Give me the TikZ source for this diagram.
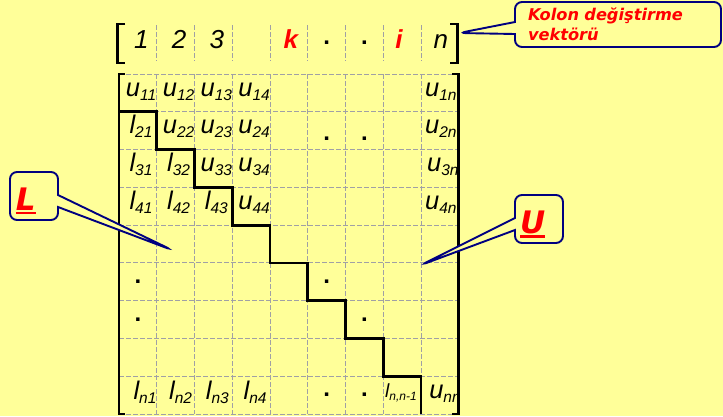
\documentclass[tikz,border=0pt]{standalone}
\usepackage{fontspec}
\setsansfont{Liberation Sans}
\newfontfamily\calfont{DejaVu Sans}
\usepackage{graphicx}
\usetikzlibrary{shapes.callouts}

\definecolor{bgyellow}{RGB}{255,255,153}
\definecolor{navyline}{RGB}{0,0,128}
\definecolor{gridgray}{RGB}{160,160,165}

% entry with a subscript
\newcommand\ent[2]{{\fontsize{25.5}{25}\selectfont #1}\raisebox{-4pt}{\fontsize{15.5}{15}\selectfont #2}}
\newcommand\entsmall[2]{{\fontsize{19}{19}\selectfont #1}\raisebox{-3pt}{\fontsize{12}{12}\selectfont #2}}
\newcommand\thickul[1]{\vtop{\hbox{#1}\kern2pt\hrule height 2.4pt}}

\begin{document}
\begin{tikzpicture}[x=1pt, y=-1pt,
    gridline/.style={draw=gridgray, dash pattern=on 4.5pt off 2.5pt, line width=0.9pt},
    heavy/.style={line width=2.8pt},
    entry/.style={anchor=base, inner sep=0pt, font=\sffamily\itshape},
    numb/.style={anchor=base, inner sep=0pt, font=\sffamily\itshape\fontsize{26}{26}\selectfont},
    hot/.style={anchor=base, inner sep=0pt, text=red, font=\sffamily\bfseries\itshape\fontsize{26}{26}\selectfont},
    dot/.style={inner sep=0pt, font=\sffamily\bfseries\fontsize{24}{24}\selectfont},
    balloon/.style={rectangle callout, draw=navyline, line width=1.9pt, fill=bgyellow,
        rounded corners=7pt, callout pointer width=12pt, text=red}]
    \useasboundingbox (0,0) rectangle (723,416);
    \fill[bgyellow] (0,0) rectangle (723,416);

    % dashed grid
    \foreach \i in {1,...,8} {
        \draw[gridline] ({119+\i*37.75},25) -- ({119+\i*37.75},61);
        \draw[gridline] ({119+\i*37.75},74) -- ({119+\i*37.75},414);
    }
    \foreach \j in {0,...,9}
        \draw[gridline] (119,{74+\j*37.78}) -- (458.75,{74+\j*37.78});

    % column vector
    \node[numb] (h1) at (141.4,48.5) {1};
    \node[numb] (h2) at (179.1,48.5) {2};
    \node[numb] (h3) at (216.9,48.5) {3};
    \node[hot] (hk) at (290.9,48.5) {k};
    \node[dot] (hd6) at (326.6,43) {.};
    \node[dot] (hd7) at (364.4,43) {.};
    \node[hot] (hi) at (399.1,48.5) {i};
    \node[numb] (hn) at (440.9,48.5) {n};

    % row 1
    \node[entry] (u11) at (141,96) {\ent{u}{11}};
    \node[entry] (u12) at (178.6,96) {\ent{u}{12}};
    \node[entry] (u13) at (216.4,96) {\ent{u}{13}};
    \node[entry] (u14) at (254.1,96) {\ent{u}{14}};
    \node[entry] (u1n) at (440.9,96) {\ent{u}{1n}};
    % row 2
    \node[entry] (l21) at (141,133.8) {\ent{l}{21}};
    \node[entry] (u22) at (178.6,133.8) {\ent{u}{22}};
    \node[entry] (u23) at (216.4,133.8) {\ent{u}{23}};
    \node[entry] (u24) at (254.1,133.8) {\ent{u}{24}};
    \node[dot] (d26) at (326.6,139) {.};
    \node[dot] (d27) at (364.4,139) {.};
    \node[entry] (u2n) at (440.9,133.8) {\ent{u}{2n}};
    % row 3
    \node[entry] (l31) at (141,171.6) {\ent{l}{31}};
    \node[entry] (l32) at (178.6,171.6) {\ent{l}{32}};
    \node[entry] (u33) at (216.4,171.6) {\ent{u}{33}};
    \node[entry] (u34) at (254.1,171.6) {\ent{u}{34}};
    \node[entry] (u3n) at (442.9,171.6) {\ent{u}{3n}};
    % row 4
    \node[entry] (l41) at (141,209.3) {\ent{l}{41}};
    \node[entry] (l42) at (178.6,209.3) {\ent{l}{42}};
    \node[entry] (l43) at (216.4,209.3) {\ent{l}{43}};
    \node[entry] (u44) at (254.1,209.3) {\ent{u}{44}};
    \node[entry] (u4n) at (440.9,209.3) {\ent{u}{4n}};
    % dots
    \node[dot] (d61) at (137.9,282) {.};
    \node[dot] (d66) at (326.6,282) {.};
    \node[dot] (d71) at (137.9,320) {.};
    \node[dot] (d77) at (364.4,320) {.};
    % last row
    \node[entry] (ln1) at (145,399) {\ent{l}{n1}};
    \node[entry] (ln2) at (180.6,399) {\ent{l}{n2}};
    \node[entry] (ln3) at (217.4,399) {\ent{l}{n3}};
    \node[entry] (ln4) at (255.1,399) {\ent{l}{n4}};
    \node[dot] (d96) at (326.6,395) {.};
    \node[dot] (d97) at (364.4,395) {.};
    \node[entry, anchor=base west] (lnn) at (385,397) {\entsmall{l}{n,n-1}};
    \node[entry] (unn) at (445,398) {\ent{u}{nn}};

    % L / U border
    \draw[heavy] (119,111.8) -| (156.75,149.6) -| (194.5,187.3) -| (232.25,225.1)
        -| (270,262.9) -| (307.75,300.7) -| (345.5,338.4) -| (383.25,376.2) -| (421,414);

    % brackets
    \draw[heavy] (125,24) -- (117.5,24) -- (117.5,63) -- (125,63);
    \draw[heavy] (450,24) -- (457.5,24) -- (457.5,63) -- (450,63);
    \draw[heavy] (125,74) -- (119,74) -- (119,414) -- (125,414);
    \draw[heavy] (452,74) -- (458.5,74) -- (458.5,414) -- (452,414);

    % callouts
    \coordinate (ktip) at (459,33);
    \coordinate (lptr) at (172,250);
    \coordinate (uptr) at (421,265);
    \node[balloon, callout absolute pointer={(ktip)}, minimum width=206pt, minimum height=45pt,
        text width=180pt, inner xsep=13pt, align=left,
        font=\calfont\bfseries\itshape\fontsize{16.2}{20}\selectfont] (kolon) at (618,24.5)
        {Kolon değiştirme\\vektörü};
    \node[balloon, callout absolute pointer={(lptr)}, minimum width=48pt, minimum height=48pt,
        text width=36pt, inner xsep=6pt, align=left, text height=28pt, text depth=0pt,
        font=\calfont\bfseries\itshape\fontsize{31}{31}\selectfont] (lbox) at (34,196) {\thickul{L}};
    \node[balloon, callout absolute pointer={(uptr)}, minimum width=48pt, minimum height=48pt,
        text width=38pt, inner xsep=5pt, align=left, text height=28pt, text depth=0pt,
        font=\calfont\bfseries\itshape\fontsize{31}{31}\selectfont] (ubox) at (539,219) {\thickul{U}};
\end{tikzpicture}
\end{document}
